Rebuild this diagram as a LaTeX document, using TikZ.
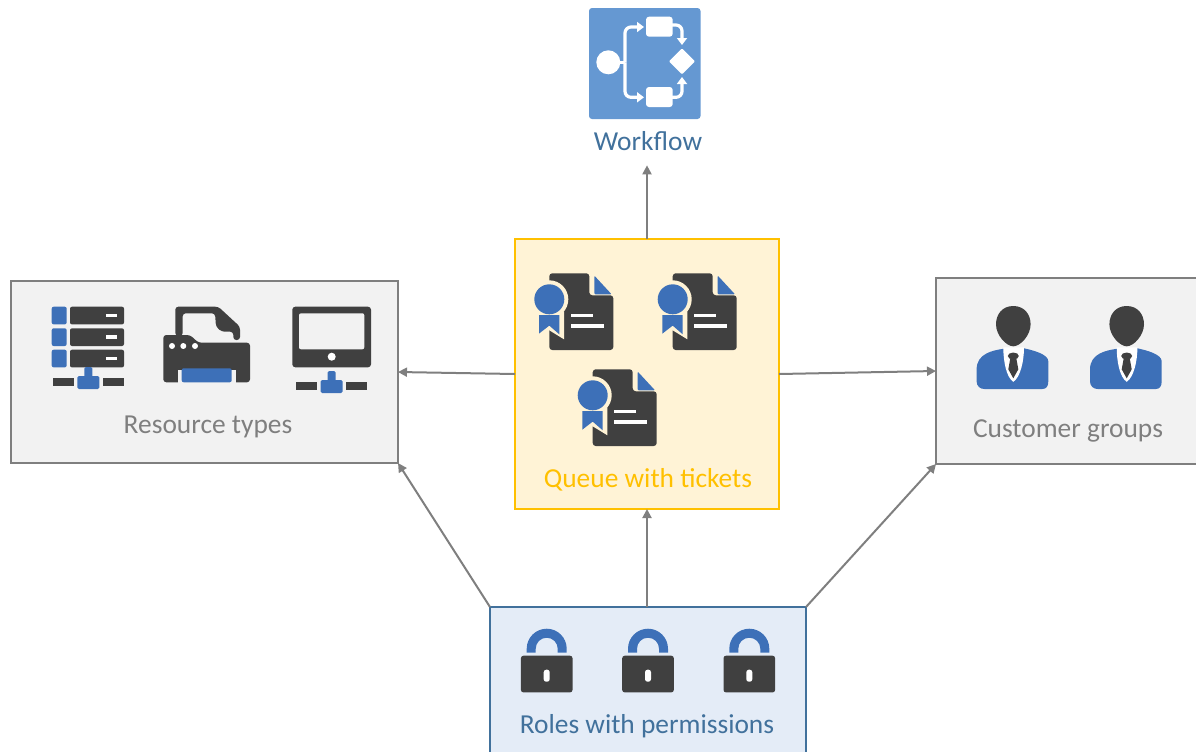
\documentclass[tikz,border=0pt]{standalone}
\usepackage{fontspec}
\setmainfont{Carlito}
\usetikzlibrary{arrows.meta}
\def\px{0.02cm}
\definecolor{iconblue}{HTML}{3D70B8}
\definecolor{icondark}{HTML}{404040}
\definecolor{flowblue}{HTML}{6598D2}
\definecolor{linegray}{HTML}{7F7F7F}
\definecolor{boxgray}{HTML}{F2F2F2}
\definecolor{queuefill}{HTML}{FFF3D6}
\definecolor{queueline}{HTML}{FFC000}
\definecolor{rolefill}{HTML}{E4ECF7}
\definecolor{roleline}{HTML}{41719C}
\tikzset{
  box/.style={draw,line width=2*\px,outer sep=0pt,inner sep=0pt},
  conn/.style={draw=linegray,line width=2*\px,-{Triangle[length=9*\px,width=9*\px]}},
  lbl/.style={font=\fontsize{15.6pt}{18pt}\selectfont,inner sep=0pt},
  flowline/.style={draw=white,line width=3.2*\px,rounded corners=6*\px},
  flowarrow/.style={flowline,-{Triangle[length=7*\px,width=10*\px]}},
  pics/netbase/.style={code={
    \fill[icondark] (-35.5,10.5) rectangle (-14.5,18.5);
    \fill[icondark] (14.5,10.5) rectangle (35.5,18.5);
    \fill[iconblue,rounded corners=1.5*\px] (-4,0) rectangle (4,12);
    \fill[iconblue,rounded corners=1.5*\px] (-11,9) rectangle (11,22);
  }},
  pics/serverrow/.style={code={
    \fill[iconblue,rounded corners=2*\px] (0,0) rectangle (15,17.7);
    \fill[icondark,rounded corners=2*\px] (18.3,0) rectangle (72.3,17.7);
    \fill[white] (54.5,7) rectangle (65.5,10.5);
  }},
  pics/certdoc/.style={code={
    \fill[icondark,rounded corners=3*\px] (0,0) -- (40,0) -- (40,22) -- (64,22) -- (64,76.7) -- (0,76.7) -- cycle;
    \fill[iconblue,rounded corners=1*\px] (45,2.3) -- (62.3,21) -- (45,21) -- cycle;
    \fill[queuefill] (-14,38) -- (14.7,38) -- (14.7,66) -- (0,57) -- (-14,64) -- cycle;
    \fill[queuefill] (0,26) circle[radius=19*\px];
    \fill[iconblue] (0,26) circle[radius=15*\px];
    \fill[iconblue] (-10.3,41.7) -- (10,41.7) -- (10,61) -- (0,52.3) -- (-10.3,60.3) -- cycle;
    \fill[white] (21.7,40.3) rectangle (43.3,44);
    \fill[white] (21.7,51) rectangle (54.3,55);
  }},
  pics/person/.style={code={
    \fill[iconblue] (-10,1.5) .. controls (-20,3) and (-36.7,6) .. (-36.7,22) -- (-36.7,34)
      .. controls (-36.7,39) and (-33,41.7) .. (-29,41.7) -- (29,41.7)
      .. controls (33,41.7) and (35,39) .. (35,34) -- (35,14) .. controls (35,7) and (20,3) .. (10.7,1) -- cycle;
    \fill[white] (-10,0) .. controls (-10,14) and (-7,30) .. (0,34.5) .. controls (7,30) and (10.7,14) .. (10.7,0) -- cycle;
    \fill[icondark] (0,-41.3) .. controls (-11,-41.3) and (-17.3,-33) .. (-17.3,-23)
      .. controls (-17.3,-12) and (-7,-1) .. (0,-1) .. controls (7,-1) and (17.3,-12) .. (17.3,-23)
      .. controls (17.3,-33) and (11,-41.3) .. (0,-41.3) -- cycle;
    \fill[icondark] (0,8.7) ellipse[x radius=5.5*\px,y radius=3.5*\px];
    \fill[icondark] (-3,11) -- (3,11) -- (5,22) -- (0,31) -- (-5,22) -- cycle;
  }},
  pics/lock/.style={code={
    \fill[iconblue] (-20,-3) -- (-20,-7) arc[start angle=180,end angle=0,radius=20*\px] -- (20,-3)
      -- (11,-3) -- (11,-7) arc[start angle=0,end angle=180,radius=11*\px] -- (-11,-3) -- cycle;
    \fill[icondark,rounded corners=2.5*\px] (-25.8,0) rectangle (25.8,36.7);
    \fill[white,rounded corners=2.5*\px] (-3,14) rectangle (3,26);
  }},
}
\begin{document}
\begin{tikzpicture}[x=\px,y=-\px]
\useasboundingbox (0,0) rectangle (1196,751);

% boxes
\node[box,draw=linegray,fill=boxgray,minimum width=387*\px,minimum height=182*\px] (resource) at (204.5,372) {};
\node[box,draw=queueline,fill=queuefill,minimum width=264*\px,minimum height=270*\px] (queue) at (647,374) {};
\node[box,draw=linegray,fill=boxgray,minimum width=280*\px,minimum height=186*\px] (customer) at (1076,371) {};
\node[box,draw=roleline,fill=rolefill,minimum width=316*\px,minimum height=164*\px] (roles) at (648,689) {};

% labels
\node[lbl,text=roleline,minimum height=48*\px] (wflabel) at (648,141) {Workflow};
\node[lbl,text=linegray] (reslabel) at (208,427) {Resource types};
\node[lbl,text=queueline] (queuelabel) at (648,480) {Queue with tickets};
\node[lbl,text=linegray] (custlabel) at (1068,431) {Customer groups};
\node[lbl,text=roleline] (rolelabel) at (647,726) {Roles with permissions};

% connectors
\draw[conn] (queue.north) -- (queue.north |- wflabel.south);
\draw[conn] (queue.west) -- (resource.east);
\draw[conn] (queue.east) -- (customer.west);
\draw[conn] (queue.south |- roles.north) -- (queue.south);
\draw[conn] (roles.north west) -- (resource.south east);
\draw[conn] (roles.north east) -- (customer.south west);

% workflow icon
\fill[flowblue,rounded corners=3*\px] (589,8) rectangle (700.5,119);
\fill[white] (608.3,62.3) circle[radius=12*\px];
\draw[flowline] (615,62.3) -- (625,62.3);
\draw[flowarrow] (625,62.3) -- (625,27) -- (644,27);
\draw[flowarrow] (625,62.3) -- (625,97.3) -- (644,97.3);
\fill[white,rounded corners=3*\px] (646,16.7) rectangle (672.7,36.7);
\fill[white,rounded corners=3*\px] (646,87) rectangle (672.7,107);
\fill[white,rounded corners=1*\px] (669,61.3) -- (682,48.3) -- (695,61.3) -- (682,74.3) -- cycle;
\draw[flowarrow] (672,25) -- (682,25) -- (682,45);
\draw[flowarrow] (672,97.3) -- (682,97.3) -- (682,77);

% resource icons
\foreach \rowy in {306.7,328.3,349.7}
  \pic at (51.7,\rowy) {serverrow};
\pic at (88.3,367) {netbase};

\fill[icondark,rounded corners=3*\px] (175.3,336) -- (175.3,306.7) -- (218.3,306.7) -- (240,326.7) -- (240,340) -- (233.3,340) -- (233.3,331.7) -- (221.7,331.7) -- (216,326.7) -- (215,313.3) -- (182.7,313.3) -- (182.7,336) -- cycle;
\fill[icondark,rounded corners=3*\px] (163.3,342) -- (163.3,335) -- (190,335) -- (198.5,342.7) -- (250,342.7) -- (250,382.3) -- (163.3,382.3) -- cycle;
\fill[boxgray] (178,370) rectangle (236,382.5);
\fill[iconblue,rounded corners=2*\px] (181.7,368.3) -- (231.7,368.3) -- (231.7,382.3) -- (181.7,382.3) -- cycle;
\foreach \dotx in {172,183.3,195}
  \fill[white] (\dotx,346) circle[radius=3*\px];

\fill[icondark,rounded corners=3*\px] (292.3,306.7) rectangle (371,367.3);
\fill[boxgray,rounded corners=2*\px] (299,313.3) rectangle (364.3,349.3);
\fill[white] (331.7,356.7) circle[radius=4*\px];
\pic at (331.7,371) {netbase};

% tickets
\pic at (549.3,273.3) {certdoc};
\pic at (672.7,273.3) {certdoc};
\pic at (592.7,369.3) {certdoc};

% customers
\pic at (1013.3,347.3) {person};
\pic at (1126.7,347.3) {person};

% locks
\foreach \lockx in {546.7,648,749.3}
  \pic at (\lockx,655.7) {lock};
\end{tikzpicture}
\end{document}
